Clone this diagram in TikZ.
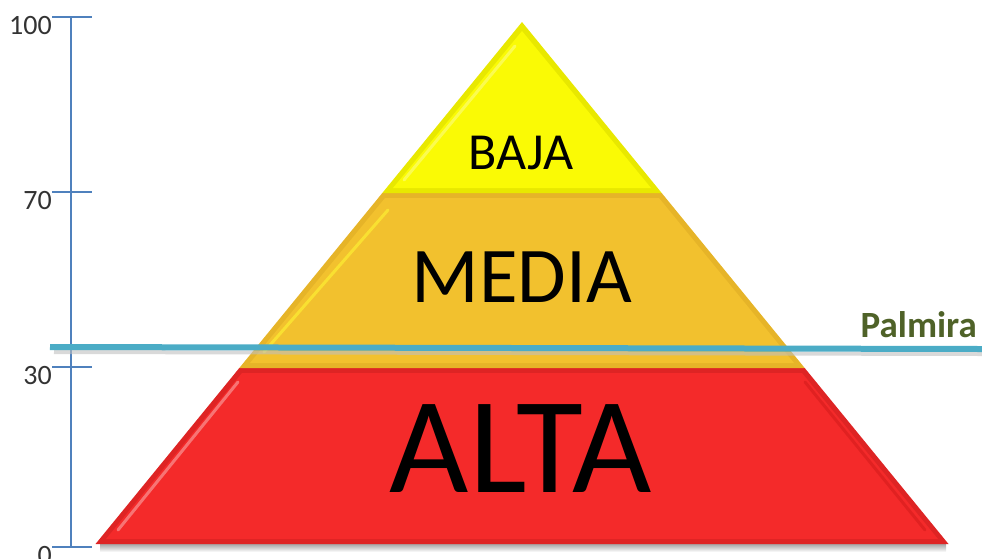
\documentclass[tikz,border=0pt]{standalone}
\usepackage{fontspec}
\setmainfont{Carlito}
\usetikzlibrary{calc}
\definecolor{axisblue}{HTML}{4F81BD}
\definecolor{palline}{HTML}{4BACC6}
\definecolor{paltext}{HTML}{4F6228}
\definecolor{redbase}{HTML}{F42A2A}
\definecolor{rededge}{HTML}{DE2424}
\definecolor{orbase}{HTML}{F2C12E}
\definecolor{oredge}{HTML}{E6B428}
\definecolor{yebase}{HTML}{FAFA05}
\definecolor{yeedge}{HTML}{E8E800}
\definecolor{labgray}{HTML}{333333}
\tikzset{
  axisline/.style={draw=axisblue, line width=2pt},
  ticklab/.style={anchor=base east, inner sep=0pt, text=labgray, font=\fontsize{28}{28}\selectfont},
  lvltext/.style={anchor=base, inner sep=0pt, text=black},
  hilite/.style={line width=3pt, line cap=round, opacity=0.45},
}
\begin{document}
\begin{tikzpicture}[x=1pt,y=-1pt]
\useasboundingbox (0,0) rectangle (982,558);
% shadow under pyramid
\shade[top color=black!35, bottom color=white] (100,544) rectangle (946,552);
% red level
\fill[rededge] (239.3,368) -- (804.7,368) -- (948.5,544) -- (95.5,544) -- cycle;
\fill[redbase] (242,373) -- (802,373) -- (938,539) -- (106,539) -- cycle;
\draw[hilite, white, opacity=0.35] (118,530) -- (238,382);
\draw[hilite, red!60!black, opacity=0.2] (925,530) -- (805,382);
% orange level
\fill[oredge] (382.3,193) -- (661.7,193) -- (804.7,368) -- (239.3,368) -- cycle;
\fill[orbase] (385,198) -- (659,198) -- (794,363) -- (250,363) -- cycle;
\draw[hilite, yellow!80!white, opacity=0.6] (264,352) -- (388,210);
% yellow level
\fill[yeedge] (522,22) -- (661.7,193) -- (382.3,193) -- cycle;
\fill[yebase] (522,31) -- (651,188) -- (393,188) -- cycle;
\draw[hilite, white, opacity=0.3] (404,180) -- (515,46);
% level labels
\node[lvltext, font=\fontsize{52}{52}\selectfont] (baja) at (521,169) {BAJA};
\node[lvltext, font=\fontsize{79}{79}\selectfont] (media) at (522,302) {MEDIA};
\node[lvltext, font=\fontsize{137}{137}\selectfont] (alta) at (521,492) {ALTA};
% axis
\coordinate (atop) at (71,17);
\coordinate (abot) at (71,547);
\draw[axisline] (atop) -- (abot);
\foreach \yy/\lab in {17/100,192/70,367/30,547/0}{
  \draw[axisline] (52,\yy) -- (92,\yy);
  \node[ticklab] (lab\lab) at (52,\yy+17) {\lab};
}
% Palmira line
\coordinate (pl) at (50,347);
\coordinate (pr) at (982,349);
\draw[line width=4pt, black!25, opacity=0.6] ($(pl)+(4,5)$) -- ($(pr)+(0,5)$);
\draw[line width=6pt, palline] (pl) -- (pr);
\node[anchor=base east, inner sep=0pt, text=paltext, font=\bfseries\fontsize{37}{37}\selectfont] (palmira) at (977,337) {Palmira};
\end{tikzpicture}
\end{document}
